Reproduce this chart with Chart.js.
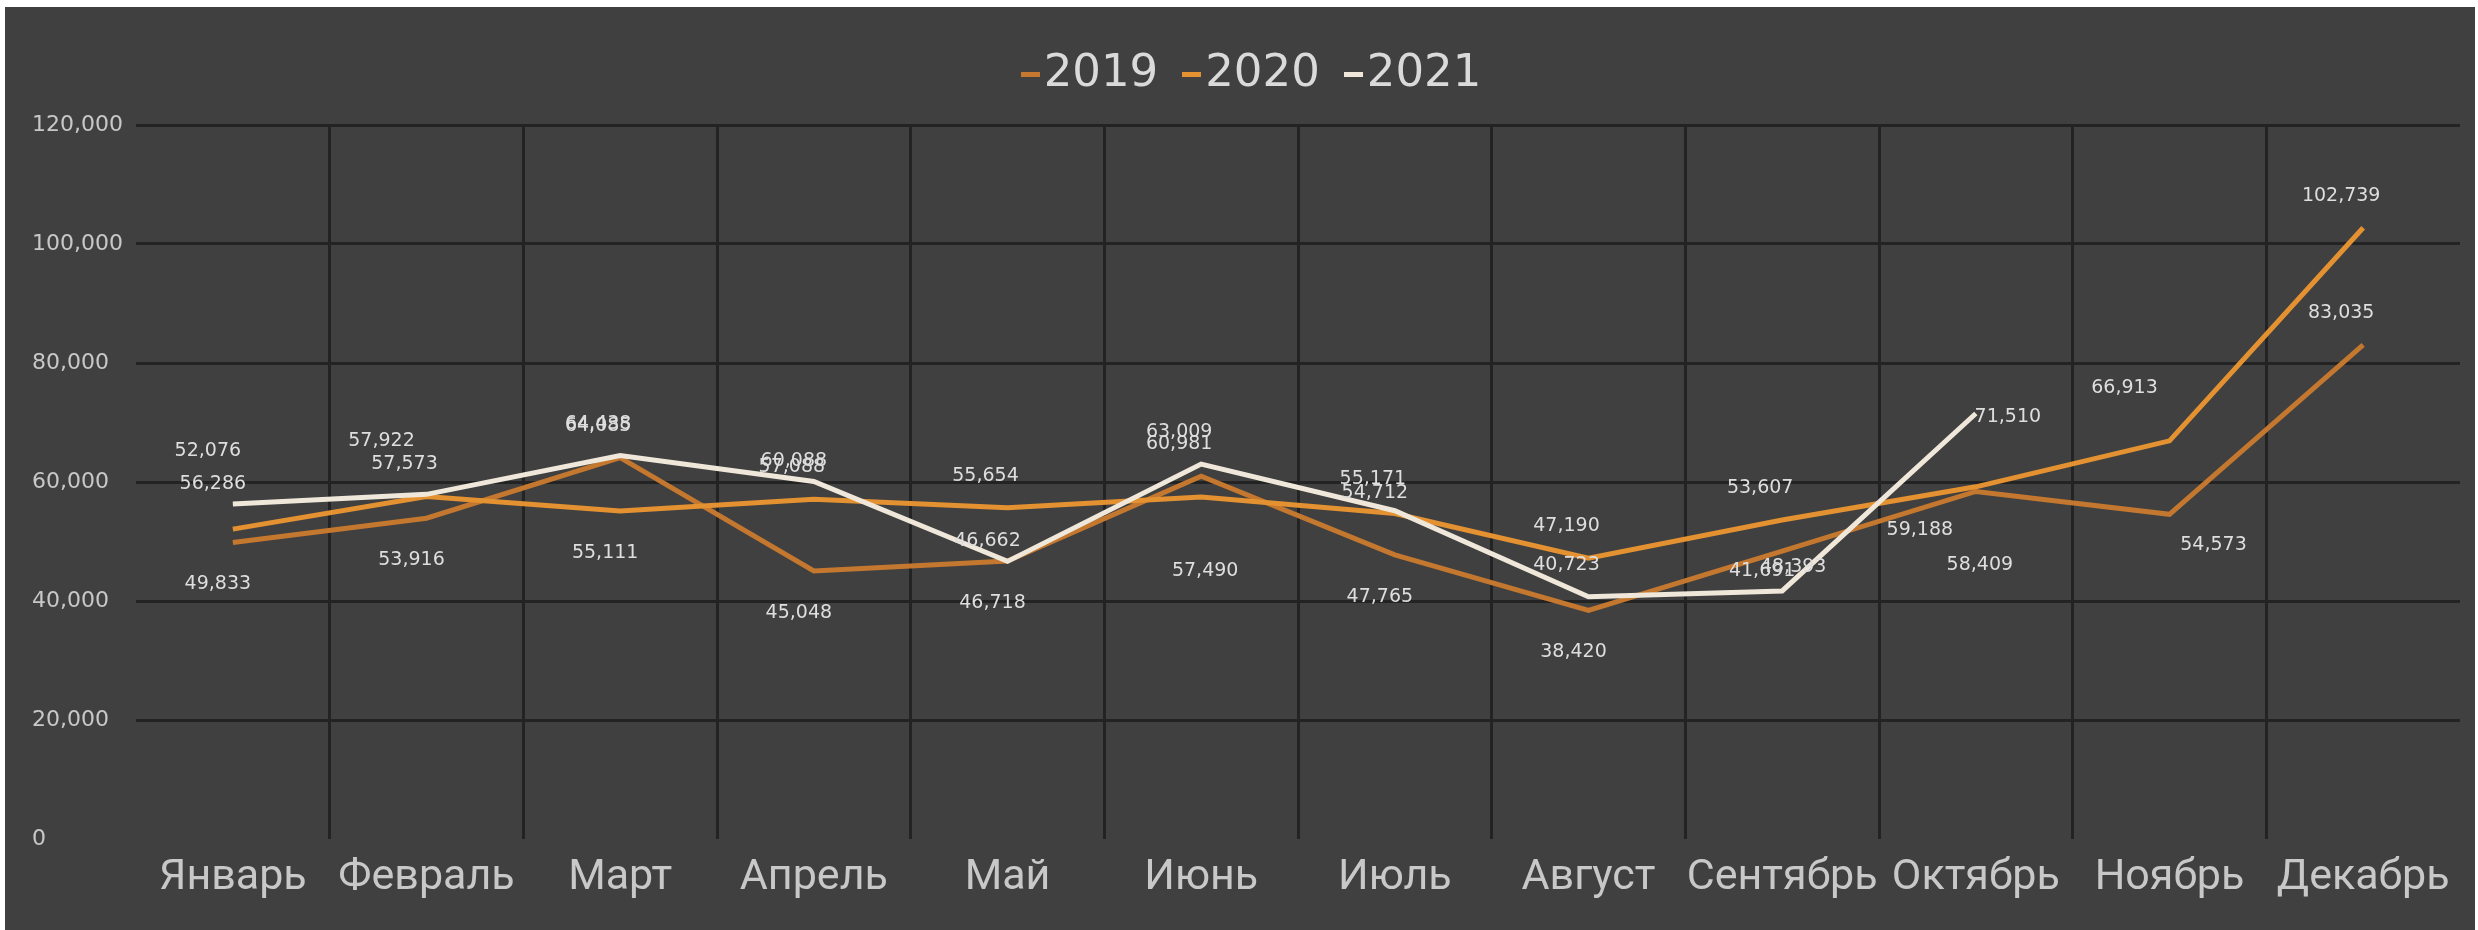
<!DOCTYPE html>
<html>
<head>
<meta charset="utf-8">
<script src="https://cdn.jsdelivr.net/npm/chart.js@4.4.1/dist/chart.umd.min.js"></script>
<style>
  html, body { margin: 0; padding: 0; background: #ffffff; overflow: hidden; }
  #frame { position: absolute; left: 5px; top: 7px; width: 2470px; height: 923px; background: #404040; }
  #wrap { position: absolute; left: 0; top: 0; width: 2478px; height: 930px; }
  #legend { position: absolute; top: 45px; left: 12px; width: 2478px; text-align: center;
            font-family: 'DejaVu Sans'; font-size: 45px; color: #dadada; line-height: 52px; }
  #legend .item { display: inline-block; margin: 0 12px; }
  #legend .mark { display: inline-block; width: 19px; height: 5px; margin-right: 4px; vertical-align: middle; }
</style>
</head>
<body>
<div id="frame"></div>
<div id="wrap"><canvas id="chart" width="2478" height="930"></canvas></div>
<div id="legend"></div>
<script>
const months = ['Январь', 'Февраль', 'Март', 'Апрель', 'Май', 'Июнь', 'Июль', 'Август', 'Сентябрь', 'Октябрь', 'Ноябрь', 'Декабрь']
const sales2019 = [49833, 53916, 64085, 45048, 46718, 60981, 47765, 38420, 48393, 58409, 54573, 83035]
const sales2020 = [52076, 57573, 55111, 57088, 55654, 57490, 54712, 47190, 53607, 59188, 66913, 102739]
const sales2021 = [56286, 57922, 64438, 60088, 46662, 63009, 55171, 40723, 41691, 71510, null, null]
const yTicks = [0, 20000, 40000, 60000, 80000, 100000, 120000]

// where each value label sits relative to its point, like the hand-moved labels in the original
const pos2019 = ['b', 'b', 'a', 'b', 'b', 'a', 'b', 'b', 'c', 'B', 'R', 'a']
const pos2020 = ['H', 'a', 'b', 'a', 'a', 'B', 'l', 'a', 'a', 'L', 'A', 'a']
const pos2021 = ['l', 'A', 'a', 'l', 'l', 'a', 'a', 'a', 'l', 'r', null, null]
const placement = {
    a: [-22, -32], A: [-45, -53], H: [-25, -78],
    b: [-15, 42], B: [4, 74], L: [-56, 43], R: [44, 31],
    l: [-20, -20], r: [32, 4], c: [11, 16]
}

const fmt = v => v.toLocaleString('en-US')

const valueLabels = {
    id: 'valueLabels',
    afterDatasetsDraw(chart) {
        const ctx = chart.ctx
        ctx.save()
        ctx.font = '19px "DejaVu Sans"'
        ctx.fillStyle = '#dedede'
        ctx.textAlign = 'center'
        ctx.textBaseline = 'middle'
        chart.data.datasets.forEach((ds, i) => {
            const meta = chart.getDatasetMeta(i)
            meta.data.forEach((pt, j) => {
                const v = ds.data[j]
                if (v === null || v === undefined) return
                const off = placement[ds.labelPos[j]] || [0, 0]
                ctx.fillText(fmt(v), pt.x + off[0], pt.y + off[1])
            })
        })
        ctx.restore()
    }
}

const datasets = [
    { label: '2019', data: sales2019, borderColor: '#C4772E', labelPos: pos2019, order: 2 },
    { label: '2020', data: sales2020, borderColor: '#E39131', labelPos: pos2020, order: 1 },
    { label: '2021', data: sales2021, borderColor: '#EFE7D9', labelPos: pos2021, order: 0 }
].map(d => Object.assign(d, { borderWidth: 5, pointRadius: 0, tension: 0, fill: false, spanGaps: false }))

const gridColor = '#232323'

new Chart(document.getElementById('chart').getContext('2d'), {
    type: 'line',
    data: { labels: months, datasets: datasets },
    options: {
        responsive: false,
        animation: false,
        layout: { padding: { left: 32, right: 18, top: 125, bottom: 0 } },
        plugins: {
            legend: { display: false },
            tooltip: { enabled: false }
        },
        scales: {
            x: {
                offset: true,
                grid: {
                    offset: true,
                    drawTicks: false,
                    lineWidth: 3,
                    color: c => (c.index === 0 || c.index === undefined) ? 'transparent' : gridColor
                },
                border: { display: false },
                ticks: {
                    color: '#c8c8c8',
                    font: { family: 'Roboto', size: 43 },
                    padding: 13,
                    maxRotation: 0,
                    autoSkip: false
                },
                afterFit: s => { s.height = 91 }
            },
            y: {
                min: 0,
                max: 120000,
                afterBuildTicks: s => { s.ticks = yTicks.map(v => ({ value: v })) },
                grid: {
                    drawTicks: false,
                    lineWidth: 3,
                    color: c => (c.tick && c.tick.value === 0) ? 'transparent' : gridColor
                },
                border: { display: false },
                ticks: {
                    color: '#c8c8c8',
                    font: { family: 'DejaVu Sans', size: 22 },
                    crossAlign: 'far',
                    callback: v => fmt(v)
                },
                afterFit: s => { s.width = 104 }
            }
        }
    },
    plugins: [valueLabels]
})

const legend = document.getElementById('legend')
datasets.forEach(d => {
    const item = document.createElement('span')
    item.className = 'item'
    const mark = document.createElement('span')
    mark.className = 'mark'
    mark.style.background = d.borderColor
    item.appendChild(mark)
    item.appendChild(document.createTextNode(d.label))
    legend.appendChild(item)
})
</script>
</body>
</html>
